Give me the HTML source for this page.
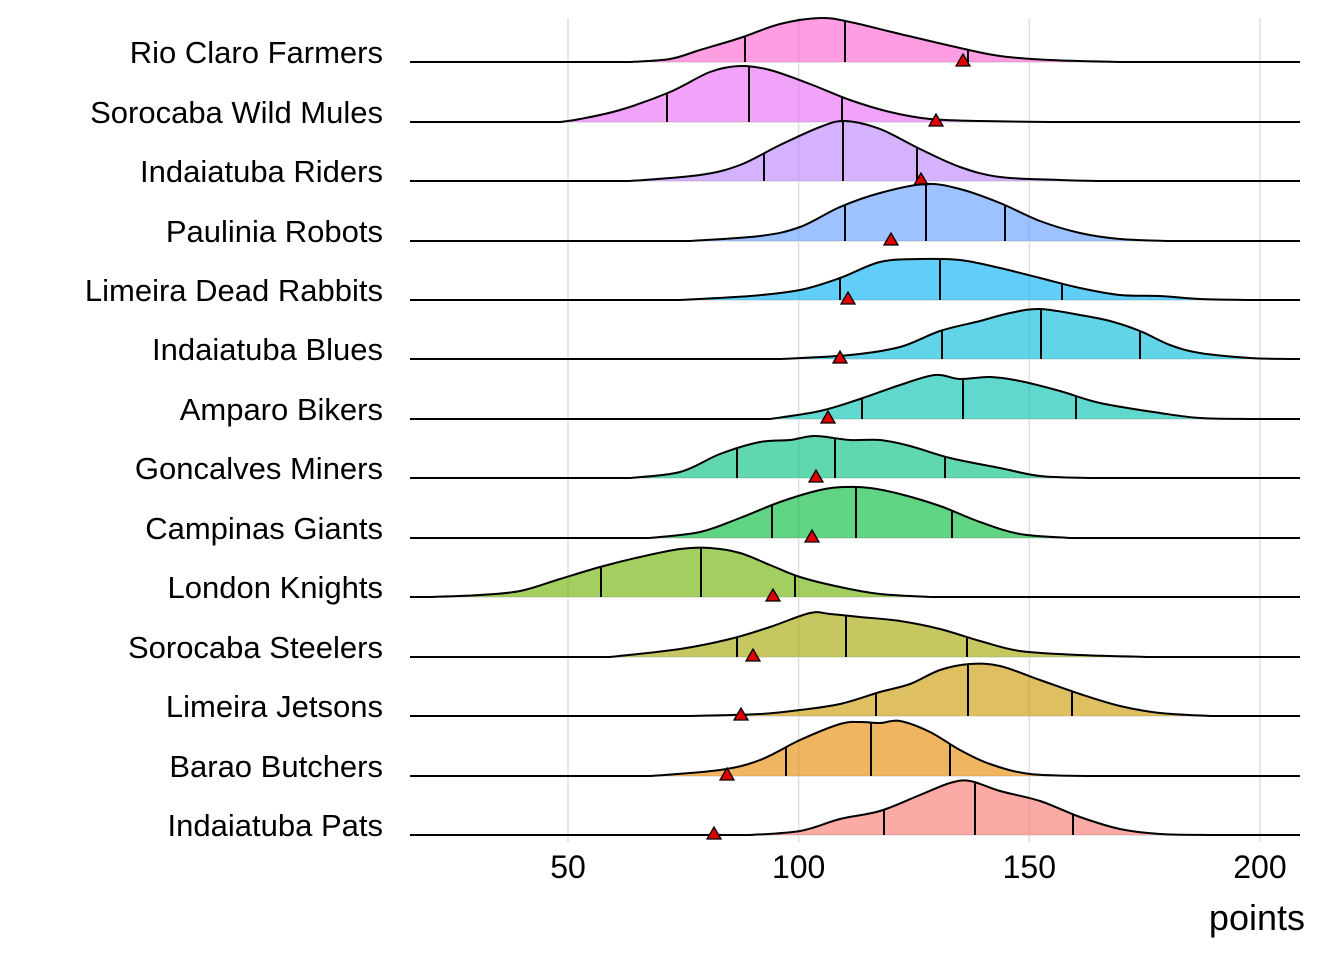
<!DOCTYPE html>
<html><head><meta charset="utf-8"><style>
body{margin:0;background:#fff}
svg text{font-family:"Liberation Sans",Arial,sans-serif;fill:#000}
</style></head><body>
<svg id="s" width="1344" height="960" xmlns="http://www.w3.org/2000/svg"></svg>
<script>
const S=document.getElementById('s');
let h='';
const X=v=>568+(v-50)*4.613;
[50,100,150,200].forEach(v=>{h+=`<line x1="${X(v)}" y1="18" x2="${X(v)}" y2="842" stroke="#dedede" stroke-width="1.5"/>`;});
const R=[
["Rio Claro Farmers",62,"#FD61D1",[[630,0],[670,3],[700,12],[740,24],[780,38],[820,44],[850,40],[900,28],[960,14],[1000,6],[1050,2],[1120,0]],[745,845,968],963],
["Sorocaba Wild Mules",122,"#E76BF3",[[560,0],[580,3],[620,12],[670,30],[710,50],[740,56],[770,52],[810,38],[850,22],[890,10],[930,3],[980,1],[1050,0]],[667,749,842],936],
["Indaiatuba Riders",181,"#B983FF",[[630,0],[700,6],[740,16],[780,36],[820,54],[845,60],[880,52],[920,32],[960,14],[1000,4],[1060,1],[1100,0]],[764,843,917],921],
["Paulinia Robots",241,"#619CFF",[[690,0],[760,5],[800,14],[840,34],[880,48],[925,57],[960,52],[1000,38],[1040,20],[1080,8],[1120,2],[1170,0]],[845,926,1005],891],
["Limeira Dead Rabbits",300,"#00B0F6",[[680,0],[750,4],[800,10],[840,22],[880,38],[920,41],[960,40],[1000,32],[1040,22],[1080,12],[1120,5],[1160,4],[1200,1],[1250,0]],[840,940,1062],848],
["Indaiatuba Blues",359,"#00BCD8",[[780,0],[850,4],[900,12],[940,28],[980,38],[1010,46],[1040,50],[1080,44],[1110,38],[1140,28],[1170,14],[1200,6],[1250,1],[1290,0]],[942,1041,1140],840],
["Amparo Bikers",419,"#00C0AF",[[770,0],[820,8],[860,20],[900,34],[935,44],[960,40],[990,42],[1020,38],[1060,28],[1100,16],[1160,6],[1200,1],[1250,0]],[862,963,1076],828],
["Goncalves Miners",478,"#00BF7D",[[630,0],[680,6],[720,24],[760,36],[790,38],[815,42],[850,38],[880,38],[910,32],[950,20],[1000,10],[1040,2],[1090,0]],[737,835,945],816],
["Campinas Giants",538,"#00BA38",[[650,0],[700,6],[740,20],[780,36],[820,48],[845,51],[870,50],[900,44],[940,32],[980,16],[1020,4],[1070,0]],[772,856,952],812],
["London Knights",597,"#6BB100",[[430,0],[480,2],[520,6],[560,18],[600,30],[640,40],[680,48],[710,49],[740,44],[770,32],[800,20],[840,10],[880,3],[930,0]],[601,701,795],773],
["Sorocaba Steelers",657,"#A3A500",[[610,0],[680,8],[730,18],[770,30],[810,44],[830,43],[860,40],[900,36],[940,28],[980,16],[1020,6],[1080,2],[1150,0]],[737,846,967],753],
["Limeira Jetsons",716,"#C99800",[[690,0],[760,2],[800,6],[840,12],[880,24],[910,32],[940,46],[970,52],[1000,50],[1040,36],[1080,22],[1120,10],[1160,3],[1210,0]],[876,968,1072],741],
["Barao Butchers",776,"#E58700",[[650,0],[720,6],[760,16],[800,36],[840,52],[860,54],[880,53],[900,55],[930,44],[960,26],[990,12],[1030,2],[1090,0]],[786,871,950],727],
["Indaiatuba Pats",835,"#F8766D",[[750,0],[800,4],[840,16],[880,24],[920,40],[950,52],[970,54],[1000,44],[1040,34],[1080,18],[1120,6],[1160,1],[1210,0]],[884,975,1073],714]
];
function smooth(p){let d=`M${p[0][0]},${p[0][1]}`;for(let i=0;i<p.length-1;i++){const a=p[Math.max(0,i-1)],b=p[i],c=p[i+1],e=p[Math.min(p.length-1,i+2)];d+=` C${b[0]+(c[0]-a[0])/6},${b[1]+(c[1]-a[1])/6} ${c[0]-(e[0]-b[0])/6},${c[1]-(e[1]-b[1])/6} ${c[0]},${c[1]}`;}return d;}
function ht(pts,x){for(let i=0;i<pts.length-1;i++){if(x>=pts[i][0]&&x<=pts[i+1][0]){const t=(x-pts[i][0])/(pts[i+1][0]-pts[i][0]);return pts[i][1]+t*(pts[i+1][1]-pts[i][1]);}}return 0;}
R.forEach(r=>{h+=`<line x1="410" y1="${r[1]}" x2="1300" y2="${r[1]}" stroke="#dedede" stroke-width="1.5"/>`;});
R.forEach(r=>{
 const [name,y0,col,pts,q,tri]=r;
 const P=pts.map(p=>[p[0],y0-p[1]]);
 const d=smooth(P);
 h+=`<path d="${d} Z" fill="${col}" fill-opacity="0.62" stroke="none"/>`;
 q.forEach(x=>{h+=`<line x1="${x}" y1="${y0}" x2="${x}" y2="${y0-ht(pts,x)}" stroke="#000" stroke-width="2"/>`;});
 h+=`<path d="M410,${y0} L${P[0][0]},${y0} ${d.slice(1).replace(/^[^C]*/,'')} L1300,${y0}" fill="none" stroke="#000" stroke-width="2"/>`;
 h+=`<polygon points="${tri-7},${y0+4} ${tri+7},${y0+4} ${tri},${y0-8}" fill="#e00000" stroke="#000" stroke-width="1.3"/>`;
 h+=`<text x="383" y="${y0+1}" font-size="31" text-anchor="end">${name}</text>`;
});
[50,100,150,200].forEach(v=>{h+=`<text x="${X(v)}" y="878" font-size="32" text-anchor="middle">${v}</text>`;});
h+=`<text x="1305" y="930" font-size="36" text-anchor="end">points</text>`;
S.innerHTML=h;
</script>
</body></html>
